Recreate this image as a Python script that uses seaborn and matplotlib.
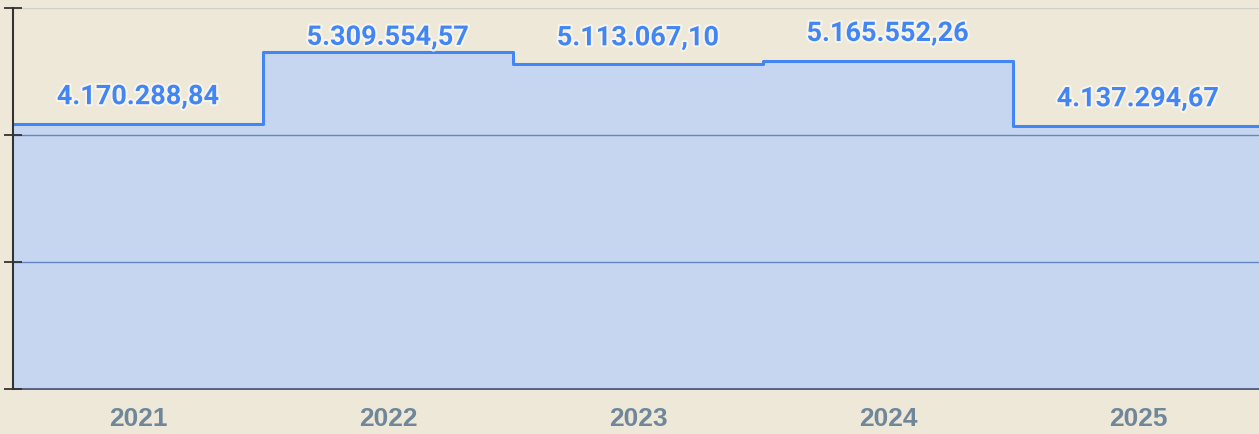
import numpy as np
import matplotlib
matplotlib.use("Agg")
import matplotlib.pyplot as plt
import matplotlib.patheffects as pe
import seaborn as sns

years = ["2021", "2022", "2023", "2024", "2025"]
values = [4170288.84, 5309554.57, 5113067.10, 5165552.26, 4137294.67]
value_labels = ["4.170.288,84", "5.309.554,57", "5.113.067,10", "5.165.552,26", "4.137.294,67"]
y_ticks = [0, 2000000, 4000000, 6000000]

# label offsets above the line (pixels)
label_offsets_px = [20, 7, 19, 20, 20]

sns.set_theme(style="white")
plt.rcParams['font.family'] = ['Roboto', 'DejaVu Sans']

W, H, DPI = 1259, 434, 100
fig = plt.figure(figsize=(W / DPI, H / DPI), dpi=DPI)
bg = '#eee8d9'
fig.patch.set_facecolor(bg)
ax = fig.add_axes([13 / W, 45 / H, 1250 / W, 381 / H])
ax.set_facecolor(bg)

blue = '#4285f4'
xs = np.arange(len(values) + 1)
ys = list(values) + [values[-1]]

ax.fill_between(xs, ys, step='post', color='#c3d5f3', alpha=0.9, linewidth=0, zorder=1)
sns.lineplot(x=xs, y=ys, ax=ax, drawstyle='steps-post', color=blue, linewidth=2.2, zorder=3)

ax.set_xlim(0, len(values))
ax.set_ylim(0, 6000000)

ax.set_yticks(y_ticks)
ax.set_yticklabels([])
ax.yaxis.grid(True, color=(0.40, 0.52, 0.78, 0.4), linewidth=1)
ax.set_axisbelow(False)
gls = ax.get_ygridlines()
for gl in gls:
    gl.set_zorder(2)
gls[-1].set_color('#cfcfcf')

ax.set_xticks(np.arange(len(years)) + 0.5)
ax.set_xticklabels(years, fontsize=19, fontweight='bold', color='#6f8799',
                   family=['Liberation Sans', 'DejaVu Sans'])
ax.tick_params(axis='x', length=0, pad=13)
ax.tick_params(axis='y', direction='inout', length=13, width=1.3, color='#333333', left=True)

for side in ['top', 'right']:
    ax.spines[side].set_visible(False)
ax.spines['left'].set_color('#333333')
ax.spines['left'].set_linewidth(1.5)
ax.spines['left'].set_zorder(4)
ax.spines['bottom'].set_color('#4a5568')
ax.spines['bottom'].set_linewidth(1.3)

for i, (v, lab) in enumerate(zip(values, value_labels)):
    ax.annotate(lab, xy=(i + 0.5, v), xytext=(0, label_offsets_px[i] * 72 / DPI),
                textcoords='offset points', ha='center', va='baseline',
                fontsize=19.5, fontweight='bold', color=blue, zorder=5,
                path_effects=[pe.withStroke(linewidth=3, foreground='#f7f4ec')])

fig.savefig('out.png', dpi=DPI, facecolor=fig.get_facecolor())
